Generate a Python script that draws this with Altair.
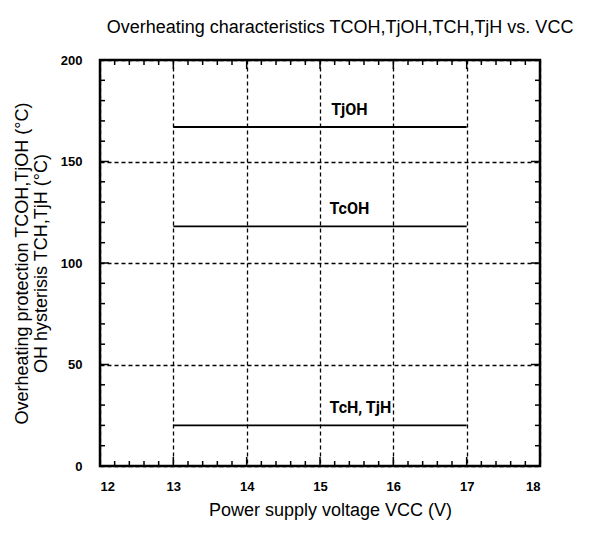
import altair as alt
import pandas as pd

# data
series = ["TjOH", "TcOH", "TcH, TjH"]
v_start = [13, 13, 13]
v_end = [17, 17, 17]
temps = [167, 118, 20]
label_x = [15.4, 15.4, 15.55]

x_major = [12, 13, 14, 15, 16, 17, 18]
y_major = [0, 50, 100, 150, 200]
x_minor = [round(12 + 0.2 * i, 1) for i in range(31) if i % 5 != 0]
y_minor = [10 * i for i in range(21) if i % 5 != 0]

W, H = 440, 406

lines_df = pd.DataFrame({"s": series, "x": v_start, "x2": v_end, "y": temps, "lx": label_x})

xs = alt.Scale(domain=[12, 18], nice=False, zero=False)
ys = alt.Scale(domain=[0, 200], nice=False)

base_x_axis = alt.Axis(values=x_major, format="d", grid=True, gridDash=[4, 3], gridColor="black",
                       gridWidth=1.3, gridOpacity=1, ticks=False, domain=False,
                       labelFont="Liberation Sans", labelFontWeight="bold", labelFontSize=13,
                       labelColor="black", labelPadding=14, title="Power supply voltage  VCC (V)",
                       titleFont="Liberation Sans", titleFontWeight="normal", titleFontSize=18,
                       titleColor="black", titlePadding=8, titleX=230, titleAlign="center")
base_y_axis = alt.Axis(values=y_major, format="d", grid=True, gridDash=[4, 3], gridColor="black",
                       gridWidth=1.3, gridOpacity=1, ticks=False, domain=False,
                       labelFont="Liberation Sans", labelFontWeight="bold", labelFontSize=13,
                       labelColor="black", labelPadding=18,
                       title=["Overheating protection TCOH,TjOH  (°C)", "OH hysterisis TCH,TjH   (°C)"],
                       titleFont="Liberation Sans", titleFontWeight="normal", titleFontSize=18,
                       titleColor="black", titlePadding=10, titleLineHeight=19)

lines = alt.Chart(lines_df).mark_rule(color="black", strokeWidth=1.8).encode(
    x=alt.X("x:Q", scale=xs, axis=base_x_axis),
    x2="x2:Q",
    y=alt.Y("y:Q", scale=ys, axis=base_y_axis),
)

labels = alt.Chart(lines_df).mark_text(font="Roboto", fontWeight="bold",
                                       fontSize=16, color="black", dy=-17).encode(
    x=alt.X("lx:Q", scale=xs), y=alt.Y("y:Q", scale=ys), text="s:N")

xmin_df = pd.DataFrame({"v": x_minor})
xmaj_df = pd.DataFrame({"v": x_major[1:-1]})
ymin_df = pd.DataFrame({"v": y_minor})
ymaj_df = pd.DataFrame({"v": y_major[1:-1]})

def xticks(df, length):
    b = alt.Chart(df).mark_rule(color="black", strokeWidth=1.5)
    return (b.encode(x=alt.X("v:Q", scale=xs), y=alt.value(H), y2=alt.value(H - length)) +
            b.encode(x=alt.X("v:Q", scale=xs), y=alt.value(0), y2=alt.value(length)))

def yticks(df, length):
    b = alt.Chart(df).mark_rule(color="black", strokeWidth=1.5)
    return (b.encode(y=alt.Y("v:Q", scale=ys), x=alt.value(0), x2=alt.value(length)) +
            b.encode(y=alt.Y("v:Q", scale=ys), x=alt.value(W), x2=alt.value(W - length)))

chart = alt.layer(
    lines, labels,
    xticks(xmin_df, 5), xticks(xmaj_df, 9),
    yticks(ymin_df, 5), yticks(ymaj_df, 9),
).properties(
    width=W, height=H,
    title=alt.TitleParams("Overheating characteristics TCOH,TjOH,TCH,TjH vs. VCC",
                          font="Liberation Sans", fontSize=18, fontWeight="normal",
                          color="black", anchor="middle", dx=20, offset=17),
    autosize=alt.AutoSizeParams(type="none"),
    padding={"left": 92, "top": 52, "right": 50, "bottom": 70},
).configure_view(stroke="black", strokeWidth=2.5)

chart.save("out.html", embed_options={"renderer": "svg", "actions": False})
